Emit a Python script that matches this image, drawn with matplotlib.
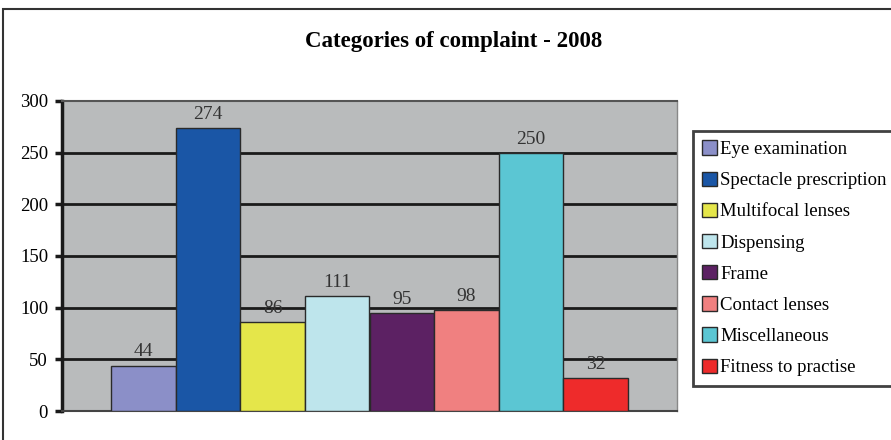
import numpy as np
import matplotlib
matplotlib.use('Agg')
import matplotlib.pyplot as plt
from matplotlib.patches import Rectangle

categories = ['Eye examination', 'Spectacle prescription', 'Multifocal lenses',
              'Dispensing', 'Frame', 'Contact lenses', 'Miscellaneous',
              'Fitness to practise']
values = [44, 274, 86, 111, 95, 98, 250, 32]
colors = ['#8B8FC8', '#1A56A6', '#E5E64A', '#BEE5EC', '#5C2163', '#F08080',
          '#5BC6D3', '#EE2B2B']
yticks = [0, 50, 100, 150, 200, 250, 300]

plt.rcParams['font.family'] = ['Liberation Serif', 'DejaVu Serif']

fig = plt.figure(figsize=(8.91, 4.40), dpi=100)

# outer chart border (runs off right and bottom edges)
fig.patches.append(Rectangle((3 / 891, -0.1), 1.2, 1 - 9 / 440 + 0.1,
                             transform=fig.transFigure, fill=False,
                             edgecolor='#333333', linewidth=1.5))

ax = fig.add_axes([62 / 891, 1 - 411 / 440, 615 / 891, 310 / 440])
ax.set_facecolor('#B9BBBC')

x = np.arange(len(values))
for i, (v, c, lab) in enumerate(zip(values, colors, categories)):
    ax.bar(x[i], v, width=1.0, color=c, edgecolor='#2a2a2a',
           linewidth=1.0, label=lab, zorder=3)
    ax.text(x[i], v + 5, str(v), ha='center', va='bottom', fontsize=14,
            color='#333333', zorder=4)

ax.set_xlim(-1.257, 8.257)
ax.set_ylim(0, 300)
ax.set_yticks(yticks)
ax.set_yticklabels([str(t) for t in yticks], fontsize=13.5)
ax.set_xticks([])
for t in yticks[1:-1]:
    ax.axhline(t, color='#1a1a1a', linewidth=2.0, zorder=2)

ax.spines['left'].set_linewidth(2.5)
ax.spines['left'].set_color('#1a1a1a')
ax.spines['top'].set_color('#555555')
ax.spines['top'].set_linewidth(1.5)
ax.spines['right'].set_color('#888888')
ax.spines['right'].set_linewidth(1.0)
ax.spines['bottom'].set_color('#444444')
ax.spines['bottom'].set_linewidth(1.5)
ax.tick_params(axis='y', length=5, width=2.5, color='#1a1a1a', pad=5)

fig.text(454 / 891, 1 - 42 / 440, 'Categories of complaint - 2008',
         ha='center', va='center', fontsize=16.5, fontweight='bold')

leg = fig.legend(loc='upper left', bbox_to_anchor=(693 / 891, 1 - 131 / 440),
                 fontsize=13.5, frameon=True, fancybox=False,
                 handlelength=0.8, handleheight=0.8, handletextpad=0.15,
                 labelspacing=0.72, borderpad=0.5, borderaxespad=0)
leg.get_frame().set_edgecolor('#111111')
leg.get_frame().set_linewidth(2.0)

fig.savefig('out.png', dpi=100)
